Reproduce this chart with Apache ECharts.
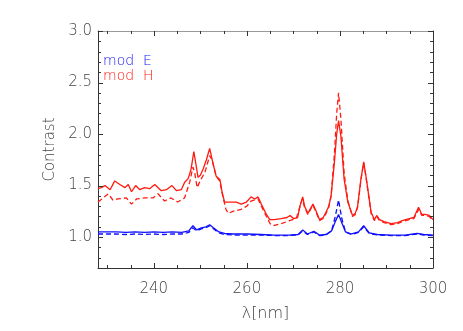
<!DOCTYPE html>
<html>
<head>
<meta charset="utf-8">
<script src="https://cdn.jsdelivr.net/npm/echarts@6/dist/echarts.min.js"></script>
<style>
html,body{margin:0;padding:0;background:#fff;}
#chart{width:463px;height:331px;}
</style>
</head>
<body>
<div id="chart"></div>
<script>
// ---- data ----
const xMajorTicks = [240, 260, 280, 300];
const xMinorTicks = [230, 235, 245, 250, 255, 265, 270, 275, 285, 290, 295];
const yMajorTicks = [1.0, 1.5, 2.0, 2.5, 3.0];
const yMinorTicks = [0.8, 0.9, 1.1, 1.2, 1.3, 1.4, 1.6, 1.7, 1.8, 1.9, 2.1, 2.2, 2.3, 2.4, 2.6, 2.7, 2.8, 2.9];
const legendNames = ['mod  E', 'mod  H'];

const wavelengthHSolid = [228.0,228.7,229.5,230.6,231.6,232.7,233.8,234.5,235.2,236.1,237.0,238.0,239.1,240.2,241.6,242.7,243.9,244.9,245.9,246.6,247.4,248.0,248.6,249.0,249.5,250.0,250.6,251.3,252.0,252.7,253.4,254.2,254.7,255.2,256.3,257.7,258.8,259.9,260.9,261.7,262.4,263.1,264.2,264.9,265.9,267.4,268.6,269.3,270.0,270.9,271.4,272.0,272.4,273.1,273.7,274.2,274.8,275.6,276.4,277.0,277.6,278.1,278.8,279.3,279.7,280.2,280.9,281.7,282.7,283.3,283.8,284.5,285.1,285.6,286.2,286.7,287.4,287.9,288.5,289.5,291.0,292.4,293.4,294.9,295.9,296.5,296.9,297.6,298.3,299.2,300.0];
const contrastHSolid = [1.47,1.48,1.50,1.46,1.545,1.51,1.48,1.51,1.44,1.50,1.46,1.48,1.47,1.51,1.45,1.46,1.50,1.45,1.46,1.53,1.57,1.66,1.83,1.72,1.58,1.60,1.66,1.75,1.86,1.72,1.59,1.56,1.43,1.34,1.34,1.34,1.32,1.34,1.39,1.37,1.39,1.32,1.22,1.17,1.17,1.18,1.19,1.21,1.18,1.19,1.30,1.39,1.30,1.23,1.28,1.32,1.26,1.17,1.19,1.24,1.30,1.40,1.72,2.00,2.13,1.98,1.56,1.34,1.21,1.23,1.30,1.56,1.73,1.59,1.40,1.24,1.17,1.21,1.17,1.15,1.13,1.14,1.16,1.18,1.19,1.25,1.29,1.22,1.22,1.21,1.17];

const wavelengthHDashed = [228.0,229.1,230.2,231.2,232.3,234.1,235.2,236.3,238.0,239.8,240.9,242.3,243.7,245.1,246.6,247.7,248.4,248.8,249.3,250.0,251.0,252.0,252.5,253.4,254.2,254.8,255.5,256.0,257.0,258.8,260.0,260.9,262.4,263.1,264.2,265.0,265.6,267.4,269.2,270.6,271.3,271.9,272.4,273.1,273.7,274.2,274.8,275.6,276.4,277.0,277.6,278.1,278.8,279.3,279.7,280.2,280.9,281.7,282.7,283.3,283.8,284.5,285.1,285.6,286.2,286.7,287.4,287.9,288.5,289.5,291.0,292.4,293.4,294.9,295.9,296.5,296.9,297.6,298.3,299.2,300.0];
const contrastHDashed = [1.34,1.38,1.42,1.36,1.37,1.38,1.32,1.37,1.38,1.38,1.42,1.35,1.38,1.34,1.38,1.53,1.68,1.62,1.48,1.55,1.63,1.79,1.75,1.59,1.54,1.40,1.27,1.23,1.25,1.27,1.30,1.35,1.37,1.30,1.20,1.13,1.11,1.13,1.16,1.18,1.28,1.37,1.29,1.22,1.27,1.31,1.25,1.16,1.18,1.23,1.29,1.40,1.80,2.20,2.40,2.15,1.62,1.35,1.20,1.22,1.29,1.55,1.72,1.58,1.39,1.23,1.16,1.20,1.16,1.14,1.12,1.13,1.15,1.17,1.18,1.23,1.27,1.21,1.21,1.20,1.16];

const wavelengthE = [228,230,232,234,236,238,240,242,244,246,247.5,248.4,249.2,250.2,251.2,252,252.8,254,255.2,257,260,263,266,269,271,272,273,274.4,275.6,277,278.2,279,279.7,280.4,281.2,282.5,284,285.1,286.3,288,291,294,296.6,298,300];
const contrastESolid = [1.05,1.05,1.05,1.045,1.05,1.045,1.05,1.045,1.05,1.045,1.06,1.11,1.07,1.09,1.10,1.12,1.09,1.05,1.035,1.03,1.03,1.025,1.02,1.02,1.025,1.07,1.03,1.055,1.02,1.025,1.06,1.15,1.22,1.14,1.05,1.03,1.05,1.11,1.04,1.025,1.02,1.02,1.035,1.025,1.02];
const contrastEDashed = [1.03,1.03,1.03,1.025,1.03,1.025,1.03,1.025,1.03,1.03,1.045,1.09,1.06,1.08,1.09,1.11,1.08,1.04,1.025,1.02,1.02,1.02,1.015,1.015,1.02,1.06,1.025,1.05,1.015,1.02,1.06,1.20,1.36,1.18,1.05,1.025,1.045,1.10,1.035,1.02,1.015,1.015,1.03,1.02,1.015];

// ---- chart ----
const zip = (xs, ys) => xs.map((x, i) => [x, ys[i]]);
const BLUE = '#1010ff', RED = '#ff1a10';
const FONT = 'DejaVu Sans';
const TXT = '#444';
const TICK = '#333';
const XMIN = 228, XMAX = 300, YMIN = 0.7, YMAX = 3.0;

// tick marks on all four sides, placed through the axes' own scales
function xTickSeries(values, len) {
  return {
    type: 'custom', silent: true, clip: false, z: 5,
    data: values.map(v => [v, YMIN]),
    renderItem: (params, api) => {
      const b = api.coord([api.value(0), YMIN]);
      const t = api.coord([api.value(0), YMAX]);
      const x = Math.round(b[0]) + 0.5;
      return { type: 'group', children: [
        { type: 'line', shape: { x1: x, y1: b[1], x2: x, y2: b[1] - len }, style: { stroke: TICK, lineWidth: 1 } },
        { type: 'line', shape: { x1: x, y1: t[1], x2: x, y2: t[1] + len }, style: { stroke: TICK, lineWidth: 1 } }
      ] };
    }
  };
}
function yTickSeries(values, len) {
  return {
    type: 'custom', silent: true, clip: false, z: 5,
    data: values.map(v => [XMIN, v]),
    renderItem: (params, api) => {
      const l = api.coord([XMIN, api.value(1)]);
      const r = api.coord([XMAX, api.value(1)]);
      const y = Math.round(l[1]) + 0.5;
      return { type: 'group', children: [
        { type: 'line', shape: { x1: l[0], y1: y, x2: l[0] + len, y2: y }, style: { stroke: TICK, lineWidth: 1 } },
        { type: 'line', shape: { x1: r[0], y1: y, x2: r[0] - len, y2: y }, style: { stroke: TICK, lineWidth: 1 } }
      ] };
    }
  };
}

const chart = echarts.init(document.getElementById('chart'), null, { renderer: 'canvas' });
chart.setOption({
  animation: false,
  backgroundColor: '#fff',
  grid: { left: 98, right: 30, top: 31, bottom: 63, containLabel: false },
  legend: {
    show: true, orient: 'vertical', left: 93, top: 49,
    icon: 'none', itemWidth: 0, itemHeight: 14, itemGap: 1,
    selectedMode: false,
    textStyle: { fontFamily: FONT, fontSize: 14, fontWeight: 300 },
    data: [
      { name: legendNames[0], textStyle: { color: BLUE } },
      { name: legendNames[1], textStyle: { color: RED } }
    ]
  },
  xAxis: [
    {
      type: 'value', position: 'bottom', min: XMIN, max: XMAX,
      axisLine: { show: true, onZero: false, lineStyle: { color: TICK, width: 1 } },
      axisTick: { show: false },
      axisLabel: { show: true, customValues: xMajorTicks, margin: 14, fontFamily: FONT, fontSize: 15, color: TXT, fontWeight: 300 },
      splitLine: { show: false },
      name: 'λ[nm]', nameLocation: 'middle', nameGap: 38,
      nameTextStyle: { fontFamily: FONT, fontSize: 16, color: TXT, fontWeight: 300 }
    },
    {
      type: 'value', position: 'top', min: XMIN, max: XMAX,
      axisLine: { show: true, onZero: false, lineStyle: { color: '#999', width: 1 } },
      axisTick: { show: false }, axisLabel: { show: false }, splitLine: { show: false }
    }
  ],
  yAxis: [
    {
      type: 'value', position: 'left', min: YMIN, max: YMAX,
      axisLine: { show: true, onZero: false, lineStyle: { color: TICK, width: 1 } },
      axisTick: { show: false },
      axisLabel: { show: true, customValues: yMajorTicks, margin: 6, fontFamily: FONT, fontSize: 15, color: TXT, fontWeight: 300, formatter: v => v.toFixed(1) },
      splitLine: { show: false },
      name: 'Contrast', nameLocation: 'middle', nameGap: 40,
      nameTextStyle: { fontFamily: FONT, fontSize: 15, color: TXT, fontWeight: 300 }
    },
    {
      type: 'value', position: 'right', min: YMIN, max: YMAX,
      axisLine: { show: true, onZero: false, lineStyle: { color: TICK, width: 1 } },
      axisTick: { show: false }, axisLabel: { show: false }, splitLine: { show: false }
    }
  ],
  series: [
    xTickSeries(xMajorTicks, 5),
    xTickSeries(xMinorTicks, 3),
    yTickSeries(yMajorTicks, 5),
    yTickSeries(yMinorTicks, 3),
    { name: legendNames[1], type: 'line', showSymbol: false, symbol: 'none',
      data: zip(wavelengthHDashed, contrastHDashed), lineStyle: { color: RED, width: 1.3, type: [5, 3] }, itemStyle: { color: RED } },
    { name: legendNames[1], type: 'line', showSymbol: false, symbol: 'none',
      data: zip(wavelengthHSolid, contrastHSolid), lineStyle: { color: RED, width: 1.3 }, itemStyle: { color: RED } },
    { name: legendNames[0], type: 'line', showSymbol: false, symbol: 'none',
      data: zip(wavelengthE, contrastEDashed), lineStyle: { color: BLUE, width: 1.3, type: [5, 3] }, itemStyle: { color: BLUE } },
    { name: legendNames[0], type: 'line', showSymbol: false, symbol: 'none',
      data: zip(wavelengthE, contrastESolid), lineStyle: { color: BLUE, width: 1.3 }, itemStyle: { color: BLUE } }
  ]
});
</script>
</body>
</html>
